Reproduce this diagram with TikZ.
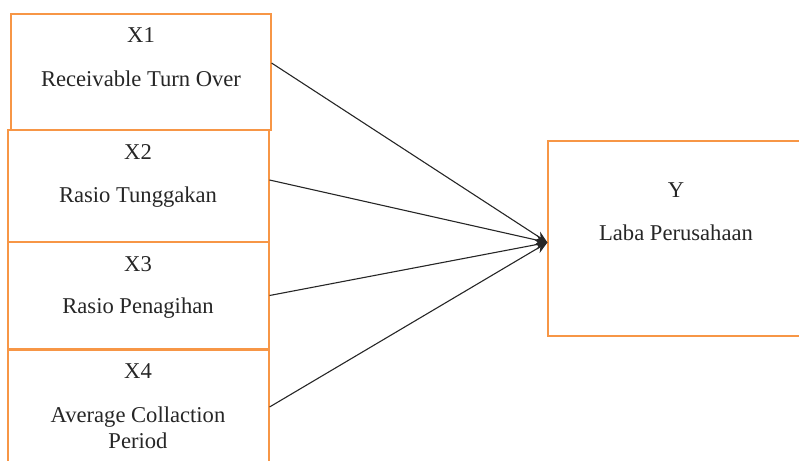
\documentclass[tikz,border=0pt]{standalone}
\usepackage{fontspec}
\setmainfont{Liberation Serif}
\usetikzlibrary{arrows.meta}
\definecolor{boxorange}{RGB}{247,150,70}
\tikzset{
  varbox/.style={draw=boxorange, line width=1.1pt, rectangle, inner sep=0pt},
  lbl/.style={font=\fontsize{22.6}{26}\selectfont, text=black!85, anchor=base, inner sep=0pt, align=center},
  conn/.style={draw=black!85, line width=1.1pt, -{Stealth[length=12pt,width=10pt]}}
}
\begin{document}
\begin{tikzpicture}[x=1pt,y=-1pt]
\useasboundingbox (0,0) rectangle (799,460);
% independent variables
\node[varbox, minimum width=260pt, minimum height=116pt] (x1) at (141,72){};
\node[varbox, minimum width=261pt, minimum height=112pt] (x2) at (138.5,186){};
\node[varbox, minimum width=261pt, minimum height=107pt] (x3) at (138.5,295.5){};
\node[varbox, minimum width=261pt, minimum height=114pt] (x4) at (138.5,407){};
\node[lbl] (x1a) at (141,43){X1};
\node[lbl] (x1b) at (141,86){Receivable Turn Over};
\node[lbl] (x2a) at (138,159){X2};
\node[lbl] (x2b) at (138,202){Rasio Tunggakan};
\node[lbl] (x3a) at (138,271){X3};
\node[lbl] (x3b) at (138,313){Rasio Penagihan};
\node[lbl] (x4a) at (138,378){X4};
\node[lbl] (x4b) at (138,448){Average Collaction\\Period};
% dependent variable
\node[varbox, minimum width=258pt, minimum height=195pt] (y) at (677,238.5){};
\node[lbl] (ya) at (676,197){Y};
\node[lbl] (yb) at (676,240){Laba Perusahaan};
% arrows
\draw[conn] ([yshift=9pt]x1.east) -- ([yshift=-4pt]y.west);
\draw[conn] ([yshift=6pt]x2.east) -- ([yshift=-4pt]y.west);
\draw[conn] (x3.east) -- ([yshift=-4pt]y.west);
\draw[conn] (x4.east) -- ([yshift=-4pt]y.west);
\end{tikzpicture}
\end{document}
